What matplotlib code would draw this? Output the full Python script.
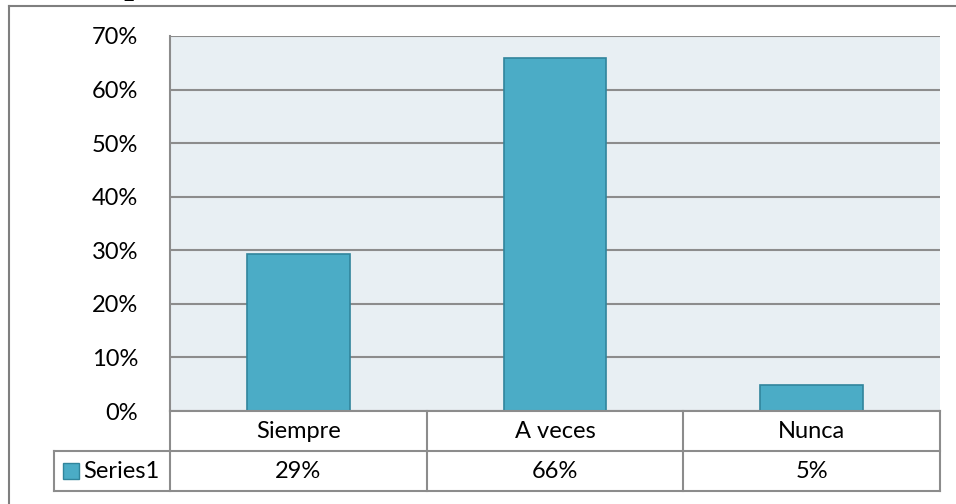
import matplotlib.pyplot as plt
from matplotlib.lines import Line2D
from matplotlib.patches import Rectangle

categorias = ["Siempre", "A veces", "Nunca"]
valores = [29.3, 65.9, 4.9]
etiquetas = ["29%", "66%", "5%"]
serie = "Series1"
yticks = [0, 10, 20, 30, 40, 50, 60, 70]

W, H = 956, 504
COR_BARRA = "#4bacc6"
COR_BORDA = "#31859c"
COR_GRADE = "#8c8c8c"
FS = 17

plt.rcParams['font.family'] = ['Lato', 'DejaVu Sans']

fig = plt.figure(figsize=(W / 100, H / 100), dpi=100)


def fx(px):
    return px / W


def fy(py):
    return 1 - py / H


# area do grafico
ax = fig.add_axes([fx(170), fy(411), fx(940) - fx(170), fy(36) - fy(411)])
ax.set_facecolor("#e8eff3")
x = range(len(categorias))
ax.bar(x, valores, width=0.4, color=COR_BARRA, edgecolor=COR_BORDA, linewidth=1.2, zorder=3)
ax.set_xlim(-0.5, len(categorias) - 0.5)
ax.set_ylim(0, 70)
ax.set_yticks(yticks)
ax.set_yticklabels([f"{v}%" for v in yticks], fontsize=FS)
ax.tick_params(axis='y', length=0, pad=23)
ax.set_xticks([])
ax.yaxis.grid(True, color=COR_GRADE, linewidth=1.5, zorder=1)
for lado in ["top", "right", "bottom"]:
    ax.spines[lado].set_visible(False)
ax.spines["left"].set_color(COR_GRADE)
ax.spines["left"].set_linewidth(1.5)

# moldura externa
fig.add_artist(Line2D([fx(9), fx(9)], [fy(6), 0], color="#7f7f7f", lw=1.5))
fig.add_artist(Line2D([fx(9), 1], [fy(6), fy(6)], color="#7f7f7f", lw=1.5))
# resto do titulo cortado (so aparece a perna do "p")
fig.text(fx(133), fy(-5), "p", family="DejaVu Serif", fontweight="bold",
         fontsize=20, ha="center", va="baseline")

# tabela de dados
col_x = [170 + i * (940 - 170) / 3 for i in range(4)]
lw = 1.5
for yy in (451, 491):
    fig.add_artist(Line2D([fx(54), fx(940)], [fy(yy), fy(yy)], color=COR_GRADE, lw=lw))
fig.add_artist(Line2D([fx(170), fx(940)], [fy(411), fy(411)], color=COR_GRADE, lw=lw))
for cx in col_x:
    fig.add_artist(Line2D([fx(cx), fx(cx)], [fy(411), fy(491)], color=COR_GRADE, lw=lw))
fig.add_artist(Line2D([fx(54), fx(54)], [fy(451), fy(491)], color=COR_GRADE, lw=lw))

for i, (cat, lab) in enumerate(zip(categorias, etiquetas)):
    xc = (col_x[i] + col_x[i + 1]) / 2
    fig.text(fx(xc), fy(432), cat, fontsize=FS, ha="center", va="center")
    fig.text(fx(xc), fy(472), lab, fontsize=FS, ha="center", va="center")

fig.add_artist(Rectangle((fx(63), fy(479)), fx(16), fy(463) - fy(479),
                         facecolor=COR_BARRA, edgecolor=COR_BORDA, lw=1))
fig.text(fx(83), fy(471), serie, fontsize=FS, ha="left", va="center")

fig.savefig("out.png", dpi=100)
